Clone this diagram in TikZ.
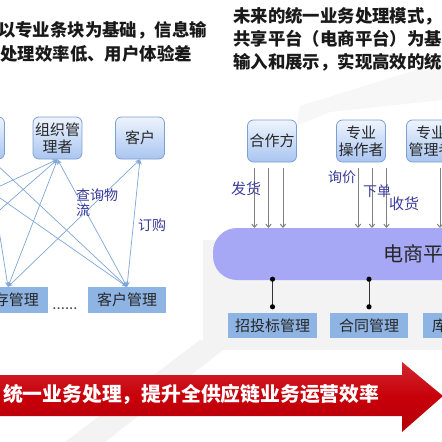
\documentclass[tikz,border=0pt]{standalone}
\usepackage{fontspec}
\setmainfont{Noto Sans CJK SC}
\usetikzlibrary{arrows.meta,calc}
\definecolor{boxtop}{HTML}{EEF4FD}
\definecolor{boxbot}{HTML}{A9C5F0}
\definecolor{boxborder}{HTML}{7E9FD3}
\definecolor{flatbox}{HTML}{8EB4E3}
\definecolor{linkblue}{HTML}{7FA6D6}
\definecolor{labelc}{HTML}{3A3A9A}
\definecolor{platc}{HTML}{A6A7F5}
\definecolor{redd}{HTML}{C8000A}
\definecolor{wm}{HTML}{F3F3F3}
\tikzset{
  rbox/.style={draw=boxborder, line width=0.8pt, rounded corners=6pt, top color=boxtop, bottom color=boxbot,
    minimum width=49pt, minimum height=42pt, align=center, font=\fontsize{15}{17}\selectfont, text=black!85, inner sep=1pt},
  fbox/.style={fill=flatbox, minimum width=78pt, minimum height=26pt, inner sep=0pt, font=\fontsize{15}{17}\selectfont, text=black!85},
  lnk/.style={linkblue, line width=0.7pt, {Stealth[length=5pt,width=4.5pt,open]}-{Stealth[length=5pt,width=4.5pt,open]}},
  garrow/.style={gray, line width=1pt, -{To[length=4pt,width=6pt]}},
  dotline/.style={black!80, line width=0.9pt},
  dotend/.style={black, radius=2.6pt},
  lbl/.style={text=labelc, font=\fontsize{14}{15}\selectfont, inner sep=0pt, align=left},
  toptext/.style={font=\fontsize{17.4}{20}\selectfont\bfseries, inner sep=0pt, text=black!90}
}
\begin{document}
\begin{tikzpicture}[x=1pt,y=-1pt]
\useasboundingbox (0,0) rectangle (442,442);
\fill[white] (0,0) rectangle (442,442);
\clip (0,0) rectangle (442,442);
% faint watermark shapes
\fill[wm] (203,240) rectangle (442,350);
\fill[wm] (200,340) -- (236,340) -- (105,442) -- (65,442) -- cycle;
\fill[wm!70!white] (442,62) -- (442,100) -- (330,112) -- (296,126) -- (300,106) -- cycle;

% top texts
\node[toptext, anchor=east] (t1) at (207,30) {以专业条块为基础，信息输};
\node[toptext, anchor=east] (t2) at (192,54) {处理效率低、用户体验差};
\node[toptext, anchor=west] (t3) at (233,16) {未来的统一业务处理模式，};
\node[toptext, anchor=west] (t4) at (233,39) {共享平台（电商平台）为基础};
\node[toptext, anchor=west] (t5) at (233,62) {输入和展示，实现高效的统一};

% left diagram
\node[rbox] (lft) at (-20,138) {};
\node[rbox] (org) at (57.5,138) {组织管\\理者};
\node[rbox] (cust) at (140,138) {客户};
\node[fbox] (kc) at (9,300) {库存管理};
\node[fbox] (kh) at (127,300) {客户管理};
\node[font=\fontsize{15}{17}\selectfont, text=black!70, anchor=base, inner sep=0pt] (dots) at (65,309) {......};

\coordinate (p1) at (-30,200);
\coordinate (p2) at (-30,236);
\coordinate (p3) at (-20,149);
\coordinate (p4) at (-20,184);
\coordinate (p5) at (-5,205);

\draw[lnk] (org.south) -- (p1);
\draw[lnk] (org.south) -- (p2);
\draw[lnk] (org.south) -- ([xshift=-1pt]kc.north);
\draw[lnk] (org.south) -- (kh.north);
\draw[lnk] (cust.south) -- ([xshift=-1pt]kc.north);
\draw[lnk] (cust.south) -- (kh.north);
\draw[lnk] (p3) -- (kh.north);
\draw[lnk] (p4) -- (kh.north);
\draw[lnk] (p5) -- ([xshift=-1pt]kc.north);

\node[lbl, anchor=north west] (lq) at (76,189) {查询物\\流};
\node[lbl, anchor=west] (ld) at (138,225) {订购};

% right diagram
\node[rbox] (hzf) at (272,141) {合作方};
\node[rbox] (czz) at (361,141) {专业\\操作者};
\node[rbox] (glz) at (431,141) {专业\\管理者};

\node[fill=platc, rounded corners=24pt, minimum width=267pt, minimum height=52pt, inner sep=0pt] (plat) at (346.5,254) {};
\node[anchor=west, font=\fontsize{20}{22}\selectfont, text=black!85, inner sep=0pt] (pt) at (383,254) {电商平台};

\foreach \dx in {-17.5,-3.5,11}{
  \draw[garrow] ([xshift=\dx pt,yshift=-6pt]hzf.south) -- ([xshift=\dx pt]hzf.south |- plat.north);
}
\foreach \dx in {-3,11,25.5}{
  \draw[garrow] ([xshift=\dx pt,yshift=-6pt]czz.south) -- ([xshift=\dx pt]czz.south |- plat.north);
}
\draw[garrow] ([xshift=9pt,yshift=-6pt]glz.south) -- ([xshift=9pt]glz.south |- plat.north);

\node[lbl, font=\fontsize{15}{16}\selectfont] (fh) at (246,189) {发货};
\node[lbl] (xj) at (342,177) {询价};
\node[lbl] (xd) at (377,191) {下单};
\node[lbl, font=\fontsize{15}{16}\selectfont] (sh) at (404,204) {收货};

\node[fbox, minimum width=89pt, minimum height=25pt] (zb) at (272.5,325.5) {招投标管理};
\node[fbox, minimum height=25pt] (ht) at (369,325.5) {合同管理};
\node[fbox, minimum height=25pt] (kc2) at (462,325.5) {库存管理};

\coordinate (za) at ([yshift=1pt]zb.north |- plat.south);
\coordinate (zc) at ([yshift=6pt]zb.north);
\coordinate (ha) at ([yshift=1pt]ht.north |- plat.south);
\coordinate (hc) at ([yshift=6pt]ht.north);
\draw[dotline] (za) -- (zc);
\draw[dotline] (ha) -- (hc);
\fill[dotend] (za) circle[] (zc) circle[] (ha) circle[] (hc) circle[];

% red arrow
\shade[top color=redd!85!white, bottom color=redd!90!black, middle color=redd]
  (-2,375) -- (402,375) -- (402,362) -- (443,396) -- (402,432) -- (402,416) -- (-2,416) -- cycle;
\node[anchor=west, font=\fontsize{19.8}{22}\selectfont\bfseries, text=white, inner sep=0pt] (rt) at (3,394) {统一业务处理，提升全供应链业务运营效率};
\end{tikzpicture}
\end{document}
